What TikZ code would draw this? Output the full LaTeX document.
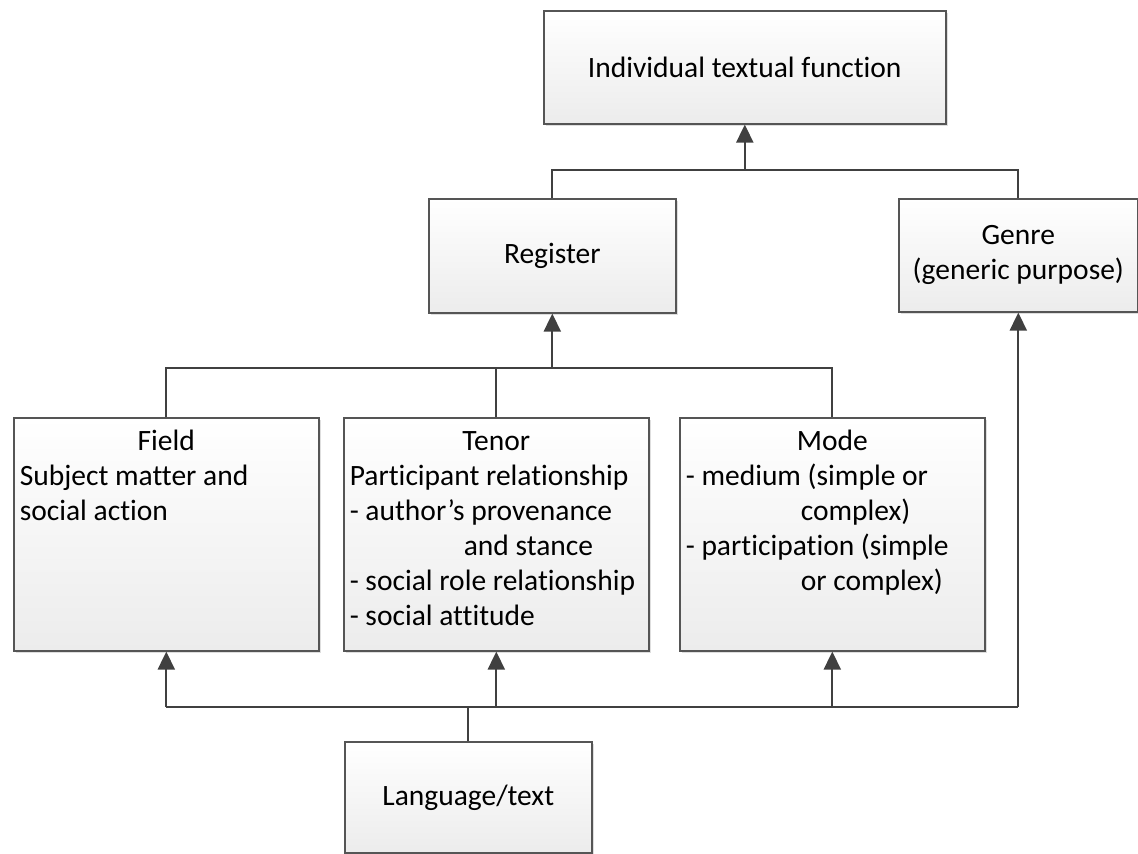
\documentclass[tikz,border=0pt]{standalone}
\usepackage{fontspec}
\setmainfont{Carlito}[Ligatures={NoCommon}]
\usetikzlibrary{arrows.meta,shadows}
\definecolor{boxline}{RGB}{85,85,85}
\definecolor{connline}{RGB}{64,64,64}
\definecolor{boxbottom}{RGB}{236,236,236}
\tikzset{
  blk/.style={rectangle, draw=boxline, line width=1.6pt, inner sep=0pt,
    top color=white, bottom color=boxbottom,
    drop shadow={shadow xshift=2.5pt, shadow yshift=-2.5pt, fill=black, opacity=0.13},
    font=\fontsize{29.5}{35}\selectfont, align=center},
  conn/.style={draw=connline, line width=2.2pt},
  arr/.style={conn, -{Triangle[length=18pt, width=17pt]}}
}
% top-aligned text block inside a tall box
\newcommand{\boxtext}[3]{\parbox[c][#1pt][t]{#2pt}{\raggedright #3}}
\newcommand{\headline}[1]{\makebox[\linewidth]{\rule{0pt}{33pt}#1}\\}
\begin{document}
\begin{tikzpicture}[x=1pt, y=-1pt]
\useasboundingbox (0,0) rectangle (1138,854);

% boxes
\node[blk, anchor=north west, minimum width=402pt, minimum height=113pt] (top) at (543,10)
  {Individual textual function};
\node[blk, anchor=north west, minimum width=247pt, minimum height=114pt] (reg) at (428,198)
  {Register};
\node[blk, anchor=north west, minimum width=239pt, minimum height=113pt] (genre) at (898,198)
  {Genre\\(generic purpose)};

\node[blk, anchor=north west, minimum width=305pt, minimum height=233pt] (field) at (13,417)
  {\boxtext{233}{293}{\headline{Field}Subject matter and\\social action}};
\node[blk, anchor=north west, minimum width=305pt, minimum height=233pt] (tenor) at (343,417)
  {\boxtext{233}{293}{\headline{Tenor}Participant relationship\\- author’s provenance\\\hspace*{114pt}and stance\\- social role relationship\\- social attitude}};
\node[blk, anchor=north west, minimum width=305pt, minimum height=233pt] (mode) at (679,417)
  {\boxtext{233}{293}{\headline{Mode}- medium (simple or\\\hspace*{115pt}complex)\\- participation (simple\\\hspace*{115pt}or complex)}};

\node[blk, anchor=north west, minimum width=247pt, minimum height=111pt] (lang) at (344,741)
  {Language/text};

% junction lines
\coordinate (busLow) at (0,707);
\coordinate (busMid) at (0,368);
\coordinate (busTop) at (0,170);

% language/text feeds field, tenor, mode and genre
\draw[conn] (lang.north) -- (lang.north |- busLow);
\draw[conn] (field.south |- busLow) -- (genre.south |- busLow);
\draw[arr] (field.south |- busLow) -- (field.south);
\draw[arr] (tenor.south |- busLow) -- (tenor.south);
\draw[arr] (mode.south |- busLow) -- (mode.south);
\draw[arr] (genre.south |- busLow) -- (genre.south);

% field, tenor and mode make up register
\draw[conn] (field.north) -- (field.north |- busMid) -- (mode.north |- busMid) -- (mode.north);
\draw[conn] (tenor.north) -- (tenor.north |- busMid);
\draw[arr] (reg.south |- busMid) -- (reg.south);

% register and genre give the textual function
\draw[conn] (reg.north) -- (reg.north |- busTop) -- (genre.north |- busTop) -- (genre.north);
\draw[arr] (top.south |- busTop) -- (top.south);
\end{tikzpicture}
\end{document}
